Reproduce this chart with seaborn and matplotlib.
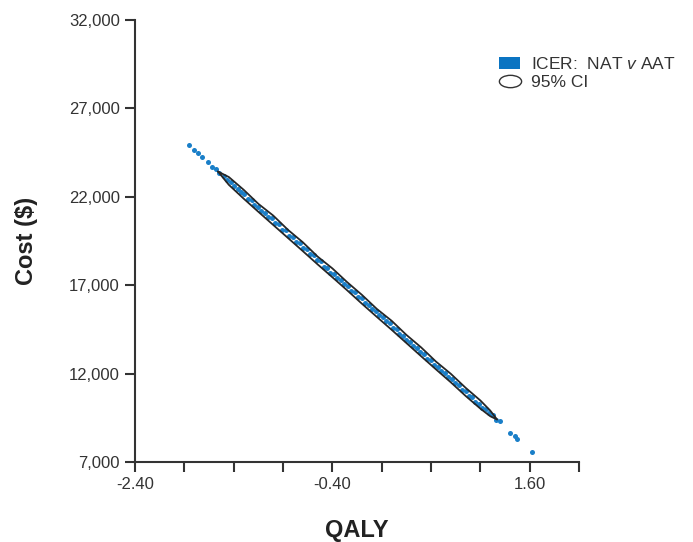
import numpy as np
import pandas as pd
import matplotlib
matplotlib.use('Agg')
import matplotlib.pyplot as plt
import seaborn as sns
from matplotlib.patches import Patch
from matplotlib.lines import Line2D
from matplotlib.path import Path
from matplotlib.transforms import Affine2D

# Bootstrap ICER scatter (QALY difference, cost difference)
qaly = [-1.85, -1.80, -1.76, -1.72, -1.66, -1.62, -1.58, -1.55, -1.50, -1.47,
        -1.43, -1.40, -1.36, -1.33, -1.30, -1.26, -1.22, -1.19, -1.15, -1.12,
        -1.08, -1.05, -1.01, -0.98, -0.94, -0.91, -0.87, -0.84, -0.80, -0.77,
        -0.73, -0.70, -0.66, -0.63, -0.59, -0.56, -0.52, -0.49, -0.45, -0.42,
        -0.38, -0.35, -0.31, -0.28, -0.24, -0.21, -0.17, -0.14, -0.10, -0.07,
        -0.03, 0.00, 0.04, 0.07, 0.11, 0.14, 0.18, 0.21, 0.25, 0.28,
        0.32, 0.35, 0.39, 0.42, 0.46, 0.49, 0.53, 0.56, 0.60, 0.63,
        0.67, 0.70, 0.74, 0.77, 0.81, 0.84, 0.88, 0.91, 0.95, 0.98,
        1.02, 1.05, 1.09, 1.12, 1.16, 1.19, 1.23, 1.26, 1.30, 1.40,
        1.45, 1.47, 1.62]
cost = [24950, 24650, 24500, 24250, 23950, 23700, 23550, 23350, 23200, 22950,
        22850, 22600, 22450, 22250, 22150, 21900, 21800, 21550, 21450, 21200,
        21100, 20850, 20800, 20500, 20450, 20150, 20100, 19800, 19750, 19450,
        19400, 19100, 19050, 18750, 18700, 18400, 18350, 18050, 18000, 17700,
        17650, 17400, 17300, 17050, 16950, 16700, 16600, 16350, 16250, 16000,
        15900, 15650, 15550, 15300, 15200, 14950, 14850, 14600, 14500, 14250,
        14150, 13900, 13800, 13550, 13450, 13200, 13100, 12850, 12750, 12500,
        12400, 12150, 12050, 11800, 11700, 11450, 11350, 11100, 11000, 10750,
        10650, 10400, 10300, 10050, 10000, 9750, 9650, 9400, 9300, 8650,
        8450, 8300, 7550]

# 95% CI outline: upper edge then lower edge (back)
ci_qaly = [-1.56, -1.45, -1.30, -1.15, -1.00, -0.85, -0.70, -0.55, -0.40, -0.25,
           -0.10, 0.05, 0.20, 0.35, 0.50, 0.65, 0.80, 0.95, 1.10, 1.20, 1.27,
           1.20, 1.10, 0.95, 0.80, 0.65, 0.50, 0.35, 0.20, 0.05, -0.10,
           -0.25, -0.40, -0.55, -0.70, -0.85, -1.00, -1.15, -1.30, -1.45, -1.56]
ci_cost = [23430, 23120, 22400, 21600, 20940, 20130, 19430, 18620, 17950, 17170,
           16450, 15660, 14990, 14190, 13480, 12680, 11990, 11200, 10480, 9910, 9400,
           9590, 10020, 10740, 11510, 12240, 12980, 13730, 14480, 15210, 15950,
           16710, 17450, 18180, 18930, 19670, 20410, 21150, 21900, 22680, 23430]

blue = '#1a7fc8'

df = pd.DataFrame({'QALY': qaly, 'Cost': cost})
ci = pd.DataFrame({'QALY': ci_qaly, 'Cost': ci_cost})

sns.set_style('ticks')
plt.rcParams['font.family'] = ['Liberation Sans', 'DejaVu Sans']
plt.rcParams['mathtext.fontset'] = 'custom'
plt.rcParams['mathtext.it'] = 'Liberation Sans:italic'

fig = plt.figure(figsize=(6.93, 5.42), dpi=100)
ax = fig.add_axes([0.195, 0.1476, 0.6405, 0.8154])

sns.scatterplot(data=df, x='QALY', y='Cost', color=blue, s=13, linewidth=0,
                ax=ax, zorder=2)
sns.lineplot(data=ci, x='QALY', y='Cost', sort=False, estimator=None,
             color='#262626', linewidth=1.3, ax=ax, zorder=3)

ax.set_xlim(-2.4, 2.1)
ax.set_ylim(7000, 32000)
xt = np.arange(-2.4, 2.11, 0.5)
ax.set_xticks(xt)
ax.set_xticklabels(['-2.40', '', '', '', '-0.40', '', '', '', '1.60', ''])
ax.set_yticks([7000, 12000, 17000, 22000, 27000, 32000])
ax.set_yticklabels(['7,000', '12,000', '17,000', '22,000', '27,000', '32,000'])
ax.tick_params(axis='both', labelsize=12, colors='#333333', length=7, width=1.5,
               direction='out', pad=4)
for s in ['left', 'bottom']:
    ax.spines[s].set_linewidth(1.5)
    ax.spines[s].set_color('#333333')
sns.despine(ax=ax)

ax.set_xlabel('QALY', fontsize=17, fontweight='bold', color='#222222', labelpad=19)
ax.set_ylabel('Cost ($)', fontsize=17, fontweight='bold', color='#222222', labelpad=22)

ell = Affine2D().scale(1.8, 1.0).transform_path(Path.unit_circle())
handles = [Patch(facecolor='#0a74c2', edgecolor='none'),
           Line2D([], [], marker=ell, linestyle='none', markersize=16,
                  markerfacecolor='white', markeredgecolor='#333333', markeredgewidth=1)]
labels = ['ICER:  NAT $\\mathit{v}$ AAT', '95% CI']
ax.legend(handles, labels, loc='upper left', bbox_to_anchor=(0.805, 0.935),
          frameon=False, fontsize=12.5, handlelength=1.2, handletextpad=0.6,
          labelspacing=0.2, borderaxespad=0, labelcolor='#333333')

fig.savefig('out.png', dpi=100)
